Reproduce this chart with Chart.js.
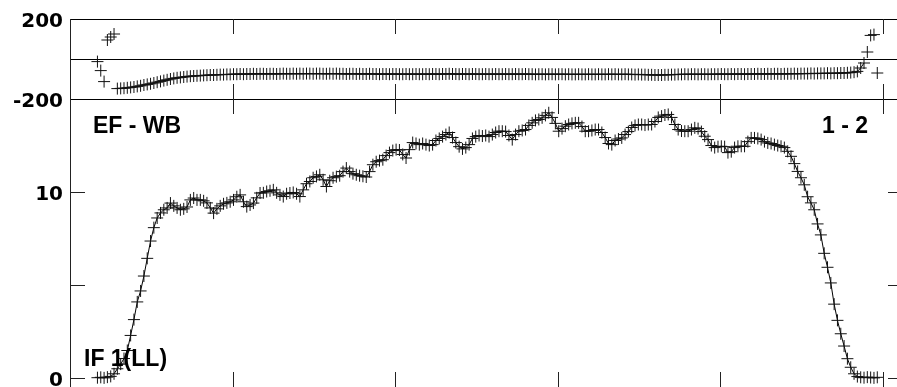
<!DOCTYPE html>
<html>
<head>
<meta charset="utf-8">
<title>EF - WB  1 - 2  IF 1(LL)</title>
<script src="https://cdn.jsdelivr.net/npm/chart.js@4.4.1/dist/chart.umd.min.js"></script>
<style>
    html, body { margin: 0; padding: 0; background: #fff; overflow: hidden; }
    #wrap { position: relative; width: 897px; height: 387px; overflow: hidden; }
    #phaseChart { position: absolute; left: 0; top: -20px; }
    #ampChart { position: absolute; left: 0; top: 70px; }
    .lbl { position: absolute; font: bold 23px "Liberation Sans", Arial, sans-serif; color: #000; line-height: 1; white-space: nowrap; }
</style>
</head>
<body>
<div id="wrap">
    <canvas id="phaseChart" width="910" height="150"></canvas>
    <canvas id="ampChart" width="910" height="340"></canvas>
    <div class="lbl" style="left:93px; top:114px;">EF - WB</div>
    <div class="lbl" style="left:822px; top:114px;">1 - 2</div>
    <div class="lbl" style="left:84px; top:347px;">IF 1(LL)</div>
</div>
<script>
// amplitude per channel (Jy)
const amplitude = [
    0.03, 0.05, 0.02, 0.06, 0.10, 0.24, 0.51, 0.76, 1.06, 1.49,
    2.30, 3.15, 4.10, 4.69, 5.49, 6.44, 7.37, 8.09, 8.61, 8.88,
    9.05, 9.15, 9.41, 9.26, 9.15, 9.05, 9.10, 9.20, 9.58, 9.68,
    9.58, 9.58, 9.53, 9.42, 9.15, 8.87, 9.10, 9.26, 9.37, 9.42,
    9.48, 9.58, 9.75, 9.85, 9.48, 9.22, 9.31, 9.41, 9.69, 9.95,
    9.96, 10.03, 10.07, 10.12, 9.96, 9.85, 9.76, 9.91, 9.95, 9.98,
    9.91, 9.76, 10.12, 10.45, 10.57, 10.77, 10.84, 10.93, 10.66, 10.30,
    10.61, 10.77, 10.83, 10.88, 11.10, 11.29, 11.10, 10.99, 10.93, 10.88,
    10.85, 10.81, 11.10, 11.47, 11.63, 11.69, 11.74, 11.96, 12.12, 12.23,
    12.28, 12.26, 12.02, 11.83, 12.28, 12.66, 12.61, 12.55, 12.61, 12.55,
    12.50, 12.55, 12.77, 12.88, 12.98, 13.09, 13.20, 12.93, 12.66, 12.44,
    12.32, 12.39, 12.55, 12.88, 12.98, 13.04, 13.01, 13.04, 12.98, 13.09,
    13.20, 13.27, 13.27, 13.25, 13.04, 12.82, 13.09, 13.27, 13.31, 13.36,
    13.58, 13.72, 13.85, 13.90, 13.99, 14.12, 14.26, 14.01, 13.69, 13.27,
    13.41, 13.54, 13.63, 13.69, 13.72, 13.72, 13.52, 13.27, 13.27, 13.31,
    13.36, 13.36, 13.20, 12.93, 12.61, 12.55, 12.77, 12.85, 12.91, 13.09,
    13.25, 13.47, 13.58, 13.63, 13.63, 13.60, 13.63, 13.63, 13.79, 14.01,
    14.08, 14.14, 14.17, 14.01, 13.63, 13.36, 13.28, 13.27, 13.27, 13.36,
    13.45, 13.41, 13.25, 13.00, 12.82, 12.50, 12.39, 12.44, 12.46, 12.44,
    12.12, 12.17, 12.39, 12.46, 12.46, 12.46, 12.71, 12.91, 12.91, 12.88,
    12.82, 12.71, 12.64, 12.61, 12.55, 12.50, 12.46, 12.39, 12.19, 11.92,
    11.53, 11.11, 10.77, 10.39, 9.75, 9.42, 9.05, 8.29, 7.70, 6.71,
    5.96, 5.12, 3.98, 3.11, 2.39, 1.73, 1.05, 0.59, 0.24, 0.09,
    0.05, 0.03, 0.06, 0.04, 0.02, 0.05
];

// phase per channel (degrees)
const phase = [
    -13, -58, -113, 95, 110, 125, -148, -147, -146, -144,
    -142, -140, -137, -134, -130, -127, -124, -120, -116, -112,
    -108, -104, -100, -97, -94, -92, -90, -88, -86, -85,
    -84, -83, -82, -81, -80, -80, -79, -78, -78, -77,
    -77, -76, -76, -75, -76, -75, -75, -74, -75, -74,
    -74, -75, -74, -74, -75, -74, -73, -74, -74, -73,
    -74, -73, -74, -73, -73, -74, -73, -73, -74, -74,
    -73, -74, -73, -74, -74, -75, -74, -74, -75, -74,
    -75, -75, -74, -75, -75, -76, -75, -75, -76, -75,
    -75, -76, -76, -75, -76, -76, -75, -76, -76, -75,
    -76, -75, -75, -76, -75, -75, -74, -75, -75, -76,
    -75, -75, -76, -75, -75, -76, -76, -75, -76, -76,
    -75, -76, -76, -75, -76, -76, -75, -76, -76, -75,
    -76, -76, -77, -76, -76, -77, -76, -76, -77, -76,
    -76, -77, -76, -77, -77, -76, -77, -77, -76, -77,
    -77, -76, -77, -77, -76, -77, -76, -77, -77, -76,
    -77, -77, -78, -77, -78, -78, -79, -79, -80, -80,
    -80, -79, -79, -78, -78, -77, -77, -76, -77, -76,
    -76, -77, -76, -76, -77, -76, -76, -76, -75, -76,
    -76, -75, -76, -75, -75, -76, -75, -75, -75, -74,
    -75, -75, -74, -75, -74, -74, -75, -74, -74, -74,
    -73, -74, -73, -73, -73, -72, -73, -72, -72, -72,
    -71, -72, -71, -71, -70, -70, -69, -68, -66, -62,
    -45, -20, 35, 118, 122, -70
];

// channel numbers (x categories)
const channels = amplitude.map((_, i) => i + 1);

// axis settings
const xRange = [-7.27, 243.75];
const xTicks = [41.73, 90.73, 139.73, 188.73, 237.73];
const phaseTicks = [-200, 0, 200];
const phaseLabels = ['-200', '', '200'];
const ampTicks = [0, 5, 10];
const ampLabels = ['0', '', '10'];
const phaseLinked = [7, 232]; // channels joined by the phase line

const TICK_LEN = 15;
const tickFont = { family: '"DejaVu Sans", sans-serif', size: 20, weight: 'bold' };

// inward tick marks on the panel edges
const frameMarks = {
    id: 'frameMarks',
    afterDatasetsDraw(chart, args, opts) {
        const { ctx, chartArea: a, scales } = chart;
        ctx.save();
        ctx.strokeStyle = '#222';
        ctx.lineWidth = 1;
        ctx.beginPath();
        xTicks.forEach(v => {
            const px = Math.round(scales.x.getPixelForValue(v)) + 0.5;
            ctx.moveTo(px, a.top); ctx.lineTo(px, a.top + TICK_LEN);
            ctx.moveTo(px, a.bottom); ctx.lineTo(px, a.bottom - TICK_LEN);
        });
        (opts.yTicks || []).forEach(v => {
            const py = Math.round(scales.y.getPixelForValue(v)) + 0.5;
            ctx.moveTo(a.left, py); ctx.lineTo(a.left + TICK_LEN, py);
            ctx.moveTo(a.right, py); ctx.lineTo(a.right - TICK_LEN, py);
        });
        ctx.stroke();
        ctx.restore();
    }
};

function yAxis(min, max, values, labels, gridOn) {
    return {
        min: min,
        max: max,
        afterBuildTicks: s => { s.ticks = values.map(v => ({ value: v })); },
        afterFit: s => { s.width = 70; },
        ticks: {
            color: '#000',
            font: tickFont,
            padding: 7,
            labelOffset: 2.5,
            autoSkip: false,
            callback: (v) => labels[values.indexOf(v)]
        },
        grid: { display: gridOn, drawTicks: false, color: '#000', lineWidth: 1 },
        border: { display: true, color: '#222', width: 1 }
    };
}

function baseOptions(pad, yScale, yMarks) {
    return {
        responsive: false,
        animation: false,
        events: [],
        layout: { padding: pad },
        scales: {
            x: { type: 'linear', display: false, min: xRange[0], max: xRange[1] },
            y: yScale
        },
        plugins: {
            legend: { display: false },
            tooltip: { enabled: false },
            frameMarks: { yTicks: yMarks }
        }
    };
}

const markStyle = {
    borderColor: '#000',
    borderWidth: 1,
    pointStyle: 'cross',
    pointRadius: 6,
    pointBorderColor: '#111',
    pointBorderWidth: 1,
    tension: 0,
    clip: false
};

new Chart(document.getElementById('phaseChart'), {
    type: 'line',
    data: {
        datasets: [Object.assign({
            label: 'Phase',
            data: channels.map((c, i) => ({ x: c, y: phase[i] })),
            segment: {
                borderColor: s => (s.p0.parsed.x < phaseLinked[0] || s.p1.parsed.x > phaseLinked[1]) ? 'rgba(0,0,0,0)' : '#000'
            }
        }, markStyle)]
    },
    options: baseOptions({ top: 39, bottom: 31, left: 0, right: 5 },
        yAxis(-200, 200, phaseTicks, phaseLabels, true), []),
    plugins: [frameMarks]
});

new Chart(document.getElementById('ampChart'), {
    type: 'line',
    data: {
        datasets: [Object.assign({
            label: 'Amplitude',
            data: channels.map((c, i) => ({ x: c, y: amplitude[i] }))
        }, markStyle)]
    },
    options: baseOptions({ top: 29, bottom: 23, left: 0, right: 5 },
        yAxis(-0.47, 15, ampTicks, ampLabels, false), ampTicks),
    plugins: [frameMarks]
});
</script>
</body>
</html>
